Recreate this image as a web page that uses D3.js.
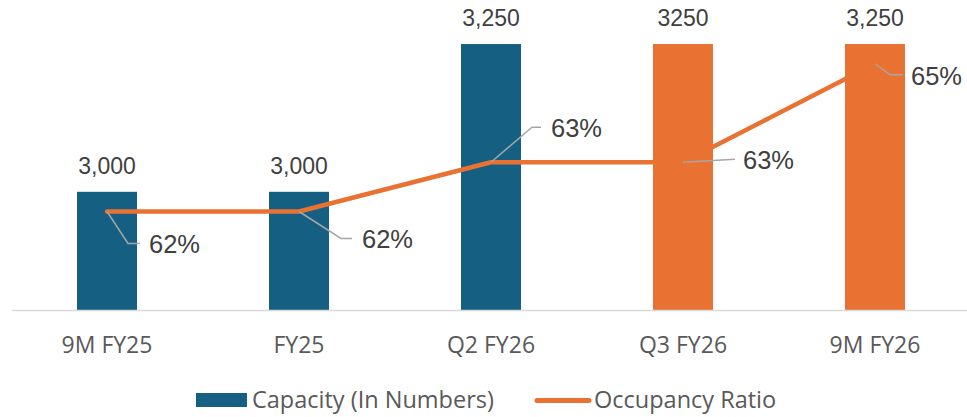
<!DOCTYPE html>
<html>
<head>
<meta charset="utf-8">
<script src="https://cdn.jsdelivr.net/npm/d3@7"></script>
<style>
  html, body { margin: 0; padding: 0; background: #ffffff; }
  svg { display: block; }
</style>
</head>
<body>
<svg id="chart" width="967" height="417"></svg>
<script>
// ---- data ----
const categories = ["9M FY25", "FY25", "Q2 FY26", "Q3 FY26", "9M FY26"];
const capacity = [3000, 3000, 3250, 3250, 3250];
const capacityLabels = ["3,000", "3,000", "3,250", "3250", "3,250"];
const occupancy = [62, 62, 63, 63, 65];
const occupancyLabels = ["62%", "62%", "63%", "63%", "65%"];
const seriesNames = ["Capacity (In Numbers)", "Occupancy Ratio"];

// ---- layout / style ----
const W = 967, H = 417;
const blue = "#156082", orange = "#E97132";
const barColors = [blue, blue, blue, orange, orange];
// label leader offsets (relative to point)
const labelLayout = [
  { ex: 21, ey: 32, hx: 33, tx: 42, ty: 41 },
  { ex: 42, ey: 27, hx: 53, tx: 63, ty: 36 },
  { ex: 41, ey: -35, hx: 50, tx: 60, ty: -25 },
  { ex: 52, ey: -3, hx: 52, tx: 60, ty: 7 },
  { ex: 15, ey: 11, hx: 28, tx: 36, ty: 21 }
];

const svg = d3.select("#chart");
const plotTop = 14.5, plotBottom = 310;

const x = d3.scaleBand().domain(categories).range([11, 971])
  .paddingInner(0.6875).paddingOuter(0.34375);
const yL = d3.scaleLinear().domain([2800, 3300]).range([plotBottom, plotTop]);
const yR = d3.scaleLinear().domain([60, 66]).range([plotBottom, plotTop]);
const cx = c => x(c) + x.bandwidth() / 2;

// bars
svg.append("g").selectAll("rect").data(categories).join("rect")
  .attr("x", d => x(d))
  .attr("y", (d, i) => yL(capacity[i]))
  .attr("width", x.bandwidth())
  .attr("height", (d, i) => plotBottom - yL(capacity[i]))
  .attr("fill", (d, i) => barColors[i]);

// x axis
const xAxis = svg.append("g").attr("transform", `translate(0,${plotBottom})`)
  .call(d3.axisBottom(x).tickSize(0).tickPadding(0));
xAxis.select(".domain").remove();
svg.append("line").attr("x1", 12).attr("x2", W).attr("y1", plotBottom + 0.5).attr("y2", plotBottom + 0.5)
  .attr("stroke", "#d9d9d9").attr("stroke-width", 1.5);
xAxis.selectAll(".tick text")
  .attr("dy", 0).attr("y", 43)
  .attr("font-family", "'Open Sans', sans-serif").attr("font-size", 23)
  .attr("fill", "#595959");

// bar value labels
svg.append("g").selectAll("text").data(categories).join("text")
  .attr("x", d => cx(d))
  .attr("y", (d, i) => yL(capacity[i]) - 18)
  .attr("text-anchor", "middle")
  .attr("font-family", "'Liberation Sans', Arial, sans-serif")
  .attr("font-size", 23).attr("fill", "#404040")
  .text((d, i) => capacityLabels[i]);

// line
const line = d3.line().x((d, i) => cx(categories[i])).y(d => yR(d));
svg.append("path").datum(occupancy)
  .attr("d", line).attr("fill", "none")
  .attr("stroke", orange).attr("stroke-width", 4.5)
  .attr("stroke-linejoin", "round").attr("stroke-linecap", "round");

// leaders + percent labels
const lg = svg.append("g");
occupancy.forEach((v, i) => {
  const px = cx(categories[i]), py = yR(v), L = labelLayout[i];
  lg.append("polyline")
    .attr("points", `${px},${py} ${px + L.ex},${py + L.ey} ${px + L.hx},${py + L.ey}`)
    .attr("fill", "none").attr("stroke", "#a6a6a6").attr("stroke-width", 1.5);
  lg.append("text")
    .attr("x", px + L.tx).attr("y", py + L.ty)
    .attr("font-family", "'Liberation Sans', Arial, sans-serif")
    .attr("font-size", 25.5).attr("fill", "#404040")
    .text(occupancyLabels[i]);
});

// legend
const leg = svg.append("g").attr("font-family", "'Open Sans', sans-serif")
  .attr("font-size", 23.5).attr("fill", "#595959");
leg.append("rect").attr("x", 196).attr("y", 393).attr("width", 51).attr("height", 14).attr("fill", blue);
leg.append("text").attr("x", 252).attr("y", 408).text(seriesNames[0]);
leg.append("line").attr("x1", 537).attr("x2", 589).attr("y1", 400.5).attr("y2", 400.5)
  .attr("stroke", orange).attr("stroke-width", 5).attr("stroke-linecap", "round");
leg.append("text").attr("x", 594).attr("y", 408).text(seriesNames[1]);
</script>
</body>
</html>
